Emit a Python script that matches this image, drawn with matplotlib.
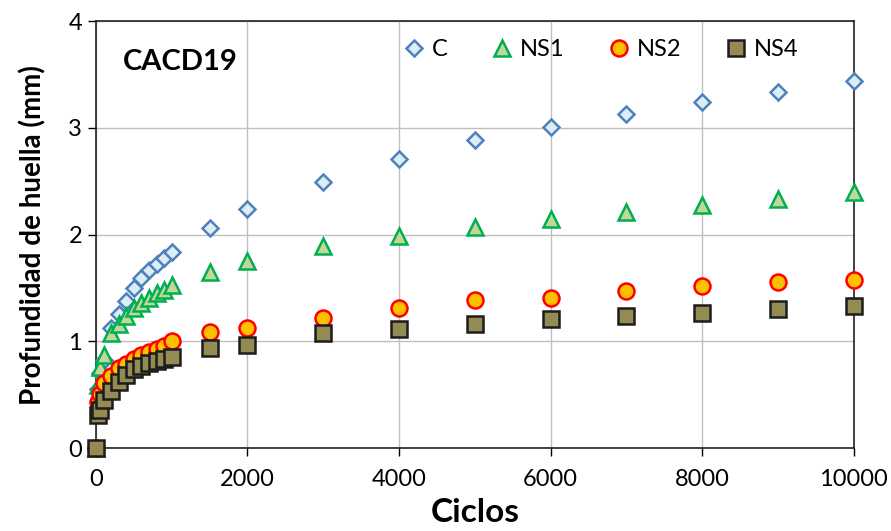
import matplotlib.pyplot as plt

plt.rcParams['font.family'] = ['Lato', 'DejaVu Sans']

ciclos = [0, 25, 50, 100, 200, 300, 400, 500, 600, 700, 800, 900, 1000,
          1500, 2000, 3000, 4000, 5000, 6000, 7000, 8000, 9000, 10000]

prof_C = [0, 0.55, 0.70, 0.83, 1.13, 1.26, 1.38, 1.50, 1.59, 1.67, 1.73, 1.78, 1.84,
          2.06, 2.24, 2.49, 2.71, 2.89, 3.01, 3.13, 3.24, 3.34, 3.44]
prof_NS1 = [0, 0.59, 0.76, 0.87, 1.08, 1.16, 1.24, 1.31, 1.36, 1.41, 1.45, 1.48, 1.53,
            1.65, 1.75, 1.89, 1.99, 2.07, 2.15, 2.21, 2.28, 2.33, 2.40]
prof_NS2 = [0, 0.43, 0.51, 0.61, 0.68, 0.75, 0.79, 0.84, 0.87, 0.90, 0.93, 0.96, 1.00,
            1.09, 1.13, 1.22, 1.31, 1.39, 1.41, 1.47, 1.52, 1.56, 1.58]
prof_NS4 = [0, 0.31, 0.36, 0.45, 0.54, 0.62, 0.69, 0.74, 0.77, 0.80, 0.82, 0.84, 0.85,
            0.94, 0.97, 1.08, 1.12, 1.16, 1.21, 1.24, 1.27, 1.30, 1.33]

series = [
    ("C", prof_C, 'D', 8, '#DAEEF3', '#4F81BD'),
    ("NS1", prof_NS1, '^', 12, '#C3D69B', '#00B050'),
    ("NS2", prof_NS2, 'o', 11.5, '#FFC000', '#FF0000'),
    ("NS4", prof_NS4, 's', 11, '#948A54', '#1C1C1C'),
]

fig = plt.figure(figsize=(8.91, 5.31), dpi=100)
ax = fig.add_axes([0.1077, 0.156, 0.8503, 0.804])

for label, vals, mk, ms, fc, ec in series:
    ax.plot(ciclos, vals, linestyle='none', marker=mk, markersize=ms,
            markerfacecolor=fc, markeredgecolor=ec, markeredgewidth=1.8,
            label=label, clip_on=False, zorder=3)

ax.set_xlim(0, 10000)
ax.set_ylim(0, 4)
ax.set_xticks(range(0, 10001, 2000))
ax.set_yticks(range(0, 5))
ax.grid(True, color='#BFBFBF', linewidth=1)
ax.set_axisbelow(True)
for s in ax.spines.values():
    s.set_color('#222222')
    s.set_linewidth(1.2)
ax.tick_params(direction='out', length=6, width=1, labelsize=17, pad=4)
ax.tick_params(axis='x', pad=9)

ax.set_xlabel('Ciclos', fontsize=24, fontweight='bold', labelpad=6)
ax.set_ylabel('Profundidad de huella (mm)', fontsize=20, fontweight='bold', labelpad=16)

ax.text(0.035, 0.935, 'CACD19', transform=ax.transAxes, fontsize=21,
        fontweight='bold', va='top', ha='left')

ax.legend(loc='upper right', bbox_to_anchor=(0.955, 1.008), ncol=4, frameon=False,
          fontsize=17, handlelength=1.0, handletextpad=0.26, columnspacing=1.8,
          markerscale=1.0)

fig.savefig('out.png', dpi=100)
